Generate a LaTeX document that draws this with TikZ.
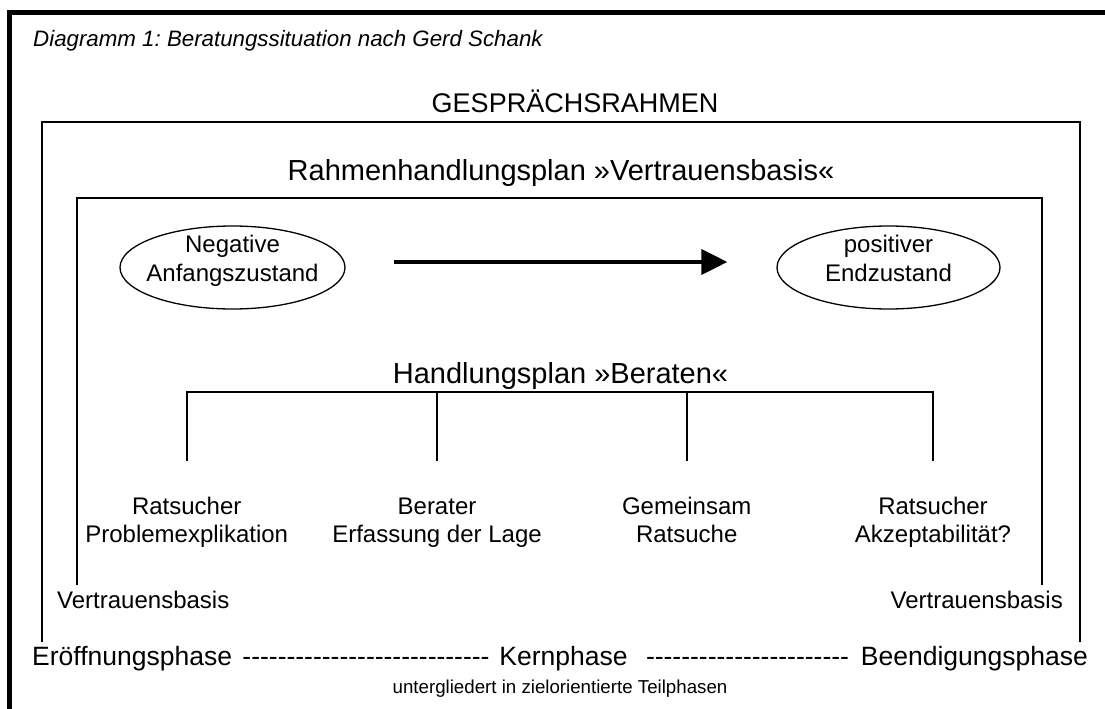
\documentclass[tikz,border=0pt]{standalone}
\usepackage{fontspec}
\setmainfont{Liberation Sans}
\usetikzlibrary{arrows.meta,shapes.geometric}
\newcommand\dashrow[1]{\foreach \i in {1,...,#1}{\hbox{-}}}
\frenchspacing
\begin{document}
\begin{tikzpicture}[x=1pt,y=-1pt,
  frame/.style={line width=1.7pt, line join=miter},
  big/.style={font=\fontsize{29}{34}\selectfont, inner sep=0pt},
  mid/.style={font=\fontsize{24}{29}\selectfont, inner sep=0pt},
  phase/.style={font=\fontsize{26.5}{32}\selectfont, inner sep=0pt},
  small/.style={font=\fontsize{18.7}{22}\selectfont, inner sep=0pt},
  state/.style={ellipse, draw, line width=1.3pt, minimum width=225pt, minimum height=83pt, inner sep=0pt},
]
\useasboundingbox (0,0) rectangle (1105,709);
\fill[white] (0,0) rectangle (1105,709);
% outer thick frame
\draw[line width=5pt, line join=miter] (9.8,709) -- (9.8,12.5) -- (1105,12.5);
\node[anchor=base west, inner sep=0pt, font=\fontsize{22.3}{27}\selectfont\itshape] (title) at (33,46.7) {Diagramm 1: Beratungssituation nach Gerd Schank};

% frame 1
\node[inner sep=0pt, font=\fontsize{27}{32}\selectfont, anchor=base] (gr) at (575,112) {GESPRÄCHSRAHMEN};
\draw[frame] (41.7,642) -- (41.7,122) -- (1080,122) -- (1080,642);

% frame 2
\node[big, anchor=base] (rhp) at (561,180) {Rahmenhandlungsplan »Vertrauensbasis«};
\draw[frame] (76.7,585) -- (76.7,197.7) -- (1041.7,197.7) -- (1041.7,585);

% states
\node[state] (neg) at (232.5,267.5) {};
\node[mid, anchor=base] (neg1) at (232.5,252.7) {Negative};
\node[mid, anchor=base] (neg2) at (232.5,281.7) {Anfangszustand};
\node[state, minimum width=223pt] (pos) at (888.5,267.5) {};
\node[mid, anchor=base] (pos1) at (888.5,252.7) {positiver};
\node[mid, anchor=base] (pos2) at (888.5,281.7) {Endzustand};
\draw[line width=4pt, -{Triangle[length=26pt,width=25pt]}, shorten <=48pt, shorten >=49pt]
  ([yshift=5.5pt]neg.east) -- ([yshift=5.5pt]pos.west);

% Handlungsplan
\node[big, anchor=base] (hp) at (560.5,383) {Handlungsplan »Beraten«};
\coordinate (h1) at (186.7,392);
\coordinate (h2) at (437,392);
\coordinate (h3) at (686.7,392);
\coordinate (h4) at (933,392);
\coordinate (l1) at (186.7,461);
\coordinate (l2) at (437,461);
\coordinate (l3) at (686.7,461);
\coordinate (l4) at (933,461);
\draw[frame] (l1) -- (h1) -- (h4) -- (l4);
\draw[frame] (h2) -- (l2);
\draw[frame] (h3) -- (l3);

\node[mid, anchor=base] (r1a) at (186.7,514) {Ratsucher};
\node[mid, anchor=base] (r1b) at (186.7,542) {Problemexplikation};
\node[mid, anchor=base] (r2a) at (437,514) {Berater};
\node[mid, anchor=base] (r2b) at (437,542) {Erfassung der Lage};
\node[mid, anchor=base] (r3a) at (686.7,514) {Gemeinsam};
\node[mid, anchor=base] (r3b) at (686.7,542) {Ratsuche};
\node[mid, anchor=base] (r4a) at (933,514) {Ratsucher};
\node[mid, anchor=base] (r4b) at (933,542) {Akzeptabilität?};

% Vertrauensbasis
\node[mid, anchor=base west] (vl) at (57,608) {Vertrauensbasis};
\node[mid, anchor=base east] (vr) at (1063,608) {Vertrauensbasis};

% phases
\node[phase, anchor=base west] (ph1) at (32,665) {Eröffnungsphase};
\node[phase, anchor=base] (d1) at (366,665) {\dashrow{28}};
\node[phase, anchor=base] (ph2) at (563.5,665) {Kernphase};
\node[phase, anchor=base] (d2) at (747.5,665) {\dashrow{23}};
\node[phase, anchor=base east] (ph3) at (1088,665) {Beendigungsphase};
\node[small, anchor=base] (sub) at (560,693) {untergliedert in zielorientierte Teilphasen};
\end{tikzpicture}
\end{document}
